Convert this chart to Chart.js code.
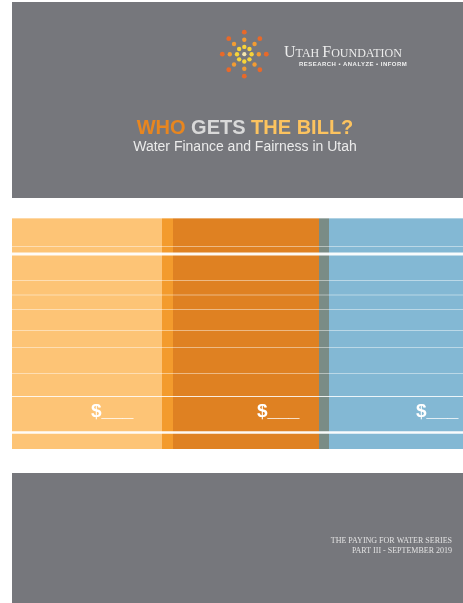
<!DOCTYPE html>
<html>
<head>
<meta charset="utf-8">
<title>Who Gets the Bill?</title>
<script src="https://cdn.jsdelivr.net/npm/chart.js@4.4.0/dist/chart.umd.min.js"></script>
<style>
  html, body { margin: 0; padding: 0; background: #fff; }
  canvas { display: block; }
</style>
</head>
<body>
<canvas id="cover" width="463" height="603"></canvas>
<script>
// grey panels (top and bottom of the cover)
const panelNames = ["header", "footer"];
const panelTop = [2, 473];
const panelBottom = [198, 603];

// the striped band: column edges across the page
const bandTop = 218;
const bandBottom = 449;
const columnNames = ["light", "edge1", "dark", "edge2", "blue"];
const columnEdges = [12, 162, 173, 319, 329, 463];

// thin white rules across the band
const ruleY = [218.5, 246.5, 254, 280.5, 295, 309.5, 330.5, 347.5, 373.5, 396.5, 432.5];

// the sun logo: rays and rings
const sunAngles = [0, 45, 90, 135, 180, 225, 270, 315];
const sunRings = [7.3, 14.5, 22];

// texts
const brandName = ["U", "TAH ", "F", "OUNDATION"];
const brandTagline = "RESEARCH \u2022 ANALYZE \u2022 INFORM";
const titleWords = ["WHO ", "GETS ", "THE BILL?"];
const subtitle = "Water Finance and Fairness in Utah";
const seriesLines = ["THE PAYING FOR WATER SERIES", "PART III - SEPTEMBER 2019"];
const dollarLabels = ["$___", "$___", "$___"];

// styles
const grey = "#76777c";
const columnColors = ["#fdc476", "#f39b2d", "#df8122", "#7a8c86", "#83b8d4"];
const ruleWidth = [1, 1, 3, 1, 1, 1, 1, 1, 1, 1, 2.5];
const ruleAlpha = [0.35, 0.45, 0.95, 0.45, 0.45, 0.45, 0.45, 0.45, 0.45, 0.85, 0.95];
const ringColors = ["#f7d43a", "#f29c33", "#e8692a"];
const titleColors = ["#e8861f", "#d9d9d9", "#fcc35f"];
const sunCenter = { x: 244.3, y: 54.2 };

const datasets = [];

panelNames.forEach((name, i) => {
  datasets.push({
    type: "line",
    label: name,
    data: [{ x: 12, y: panelTop[i] }, { x: 463, y: panelTop[i] }],
    fill: { value: panelBottom[i] },
    backgroundColor: grey,
    borderColor: "transparent",
    borderWidth: 0,
    pointRadius: 0,
    order: 5,
  });
});

columnNames.forEach((name, i) => {
  datasets.push({
    type: "line",
    label: name,
    data: [{ x: columnEdges[i], y: bandTop }, { x: columnEdges[i + 1], y: bandTop }],
    fill: { value: bandBottom },
    backgroundColor: columnColors[i],
    borderColor: "transparent",
    borderWidth: 0,
    pointRadius: 0,
    order: 4,
  });
});

ruleY.forEach((y, i) => {
  datasets.push({
    type: "line",
    label: "rule" + i,
    data: [{ x: 12, y: y }, { x: 463, y: y }],
    fill: false,
    borderColor: "rgba(255,255,255," + ruleAlpha[i] + ")",
    borderWidth: ruleWidth[i],
    pointRadius: 0,
    order: 3,
  });
});

// sun dots
datasets.push({
  type: "scatter",
  label: "sun-centre",
  data: [{ x: sunCenter.x, y: sunCenter.y }],
  backgroundColor: "#f4e6ae",
  borderWidth: 0,
  pointRadius: 2.1,
  order: 1,
});
sunRings.forEach((r, i) => {
  datasets.push({
    type: "scatter",
    label: "sun-ring" + i,
    data: sunAngles.map((a) => ({
      x: sunCenter.x + r * Math.cos((a * Math.PI) / 180),
      y: sunCenter.y + r * Math.sin((a * Math.PI) / 180),
    })),
    backgroundColor: ringColors[i],
    borderWidth: 0,
    pointRadius: i === 2 ? 2.4 : 2.2,
    order: 1,
  });
});

// texts drawn on top of the chart
const coverText = {
  id: "coverText",
  afterDraw(chart) {
    const ctx = chart.ctx;
    ctx.save();
    ctx.textBaseline = "alphabetic";

    // brand name in small caps
    let x = 284;
    brandName.forEach((part, i) => {
      ctx.font = i % 2 === 0 ? "16px 'Liberation Serif'" : "12px 'Liberation Serif'";
      ctx.fillStyle = "#ececec";
      ctx.textAlign = "left";
      ctx.fillText(part, x, 57);
      x += ctx.measureText(part).width;
    });

    ctx.font = "bold 6px 'Liberation Sans'";
    ctx.letterSpacing = "0.45px";
    ctx.fillStyle = "#f0f0f0";
    ctx.textAlign = "left";
    ctx.fillText(brandTagline, 299, 66);
    ctx.letterSpacing = "0px";

    // title
    ctx.font = "bold 20px 'Liberation Sans'";
    const total = titleWords.reduce((s, w) => s + ctx.measureText(w).width, 0);
    x = 245 - total / 2;
    titleWords.forEach((w, i) => {
      ctx.fillStyle = titleColors[i];
      ctx.textAlign = "left";
      ctx.fillText(w, x, 134);
      x += ctx.measureText(w).width;
    });

    ctx.font = "14px 'Liberation Sans'";
    ctx.fillStyle = "#ebebeb";
    ctx.textAlign = "center";
    ctx.fillText(subtitle, 245, 151);

    // dollar blanks
    ctx.font = "bold 19px 'Liberation Sans'";
    ctx.fillStyle = "#ffffff";
    ctx.textAlign = "left";
    const dollarX = [91, 257, 416];
    dollarLabels.forEach((t, i) => ctx.fillText(t, dollarX[i], 417));

    // series note
    ctx.font = "8px 'Liberation Serif'";
    ctx.fillStyle = "#e2e2e2";
    ctx.textAlign = "right";
    ctx.fillText(seriesLines[0], 452, 543);
    ctx.fillText(seriesLines[1], 452, 553);

    ctx.restore();
  },
};

new Chart(document.getElementById("cover"), {
  type: "scatter",
  data: { datasets: datasets },
  options: {
    responsive: false,
    devicePixelRatio: 1,
    animation: false,
    layout: { padding: 0, autoPadding: false },
    plugins: {
      legend: { display: false },
      tooltip: { enabled: false },
      filler: { drawTime: "beforeDatasetDraw" },
    },
    scales: {
      x: { type: "linear", min: 0, max: 463, display: false },
      y: { type: "linear", min: 0, max: 603, reverse: true, display: false },
    },
  },
  plugins: [coverText],
});
</script>
</body>
</html>
